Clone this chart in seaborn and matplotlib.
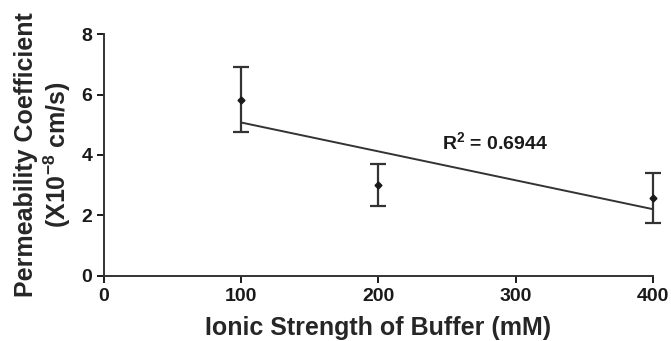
import matplotlib
matplotlib.use("Agg")
import matplotlib.pyplot as plt
import seaborn as sns
import pandas as pd

# Data
ionic_strength = [100, 200, 400]
permeability = [5.82, 3.00, 2.58]
err_upper = [1.08, 0.70, 0.82]
err_lower = [1.06, 0.69, 0.83]

df = pd.DataFrame({"ionic": ionic_strength, "perm": permeability})

sns.set_style("ticks")
plt.rcParams["font.family"] = ["Liberation Sans", "DejaVu Sans"]
plt.rcParams["font.weight"] = "bold"
plt.rcParams["mathtext.default"] = "bf"

fig = plt.figure(figsize=(6.71, 3.41), dpi=100)
ax = fig.add_axes([0.155, 0.191, 0.818, 0.709])

# Linear regression line through the means
sns.regplot(data=df, x="ionic", y="perm", ci=None, scatter=False, ax=ax,
            line_kws={"color": "#333333", "lw": 1.4})

# Means with error bars (not clipped at the right edge)
eb = ax.errorbar(ionic_strength, permeability, yerr=[err_lower, err_upper],
                 fmt="D", ms=3.5, color="#1a1a1a", ecolor="#333333",
                 elinewidth=1.6, capsize=6, capthick=1.6)
for artist in eb.get_children():
    artist.set_clip_on(False)

ax.text(246, 4.15, "R$^{\\mathregular{2}}$ = 0.6944", fontsize=14,
        fontweight="bold", color="#1a1a1a")

ax.set_xlim(0, 400)
ax.set_ylim(0, 8)
ax.set_xticks([0, 100, 200, 300, 400])
ax.set_yticks([0, 2, 4, 6, 8])
ax.set_xlabel("Ionic Strength of Buffer (mM)", fontsize=18, fontweight="bold")
ax.set_ylabel("Permeability Coefficient\n(X10$^{\\mathregular{-8}}$ cm/s)", fontsize=18,
              fontweight="bold", linespacing=1.15)
ax.xaxis.set_label_coords(0.5, -0.165)
ax.yaxis.set_label_coords(-0.056, 0.5)
ax.tick_params(labelsize=14, width=1.4, length=5, colors="#1a1a1a")
for lab in ax.get_xticklabels() + ax.get_yticklabels():
    lab.set_fontweight("bold")
for s in ["left", "bottom"]:
    ax.spines[s].set_linewidth(1.4)
    ax.spines[s].set_color("#333333")
sns.despine(ax=ax)

fig.savefig("out.png", dpi=100)
